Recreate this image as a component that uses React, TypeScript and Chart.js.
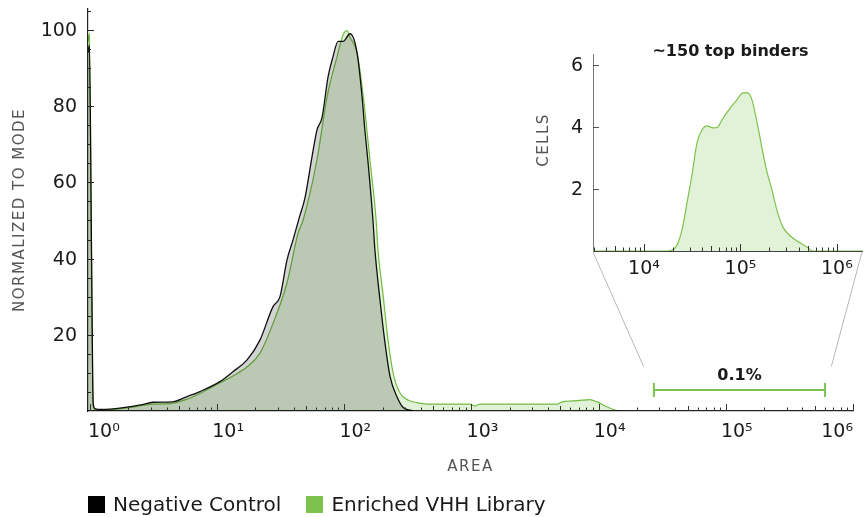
import React, { useEffect, useRef } from 'react';
import { Chart, registerables } from 'chart.js';

Chart.register(...registerables);

// ---------- data ----------
const seriesNames = ['Negative Control', 'Enriched VHH Library'];
const seriesColors = ['#000000', '#7dc24d'];

const negX = [0.965, 0.99, 1.03, 1.06, 1.1, 1.2, 1.44, 1.95, 2.5, 3.13, 4.42, 5.8, 7.33, 10.5, 13.3, 17.2, 21.7, 27.5, 31.2, 35.4, 39.5, 44, 49.1, 55.7, 61, 66.8, 74.5, 81.5, 89.3, 97.7, 111, 126, 138, 145, 154, 168, 174, 191, 209, 229, 260, 289, 347];
const negY = [94, 96, 40, 2, 0.6, 0.4, 0.5, 1.0, 1.6, 2.3, 2.4, 3.8, 5.1, 7.7, 10.3, 13.4, 18.6, 27.4, 30, 39.6, 44.9, 50.5, 56, 66.7, 73.8, 77, 87.7, 93, 97, 97, 99, 94, 82.4, 73.8, 65, 50, 42.3, 29, 17.8, 9, 3.7, 1, 0];

const libX = [0.965, 0.99, 1.03, 1.06, 1.1, 1.2, 1.44, 1.95, 3.13, 4.42, 5.8, 7.33, 10.5, 13.3, 17.2, 21.7, 27.5, 35.4, 43.3, 47.3, 61, 73.1, 87.6, 97.7, 105, 111, 126, 140, 159, 178, 184, 201, 221, 242, 274, 317, 373, 447, 975, 1066, 1167, 4710, 5150, 6760, 8560, 9720, 11640, 13950, 15270];
const libY = [97, 99, 35, 1.5, 0.4, 0.2, 0.3, 0.8, 1.8, 2.0, 3.1, 4.6, 7.4, 9.2, 11.6, 15.2, 23, 33.6, 46.7, 50, 66, 82.4, 93, 98.7, 99.8, 98, 94, 83.5, 66, 50, 42.3, 31, 18.6, 10, 4.7, 2.9, 2.2, 1.8, 1.8, 1.3, 1.8, 1.8, 2.4, 2.7, 3.0, 2.4, 1.1, 0.1, 0];

const insetX = [2960, 17740, 21980, 24770, 27900, 31420, 35400, 39900, 44970, 51880, 58440, 64300, 77800, 92000, 106100, 119600, 131600, 151800, 171000, 188200, 212000, 238800, 275500, 349700, 488700, 563700, 1820000];
const insetY = [0, 0, 0.19, 0.68, 1.55, 2.45, 3.48, 3.9, 4.03, 3.97, 4.0, 4.23, 4.6, 4.87, 5.1, 5.1, 4.87, 4.0, 3.16, 2.55, 1.97, 1.32, 0.77, 0.42, 0.13, 0, 0];

const mainXTicks = [1, 10, 100, 1000, 10000, 100000, 1000000];
const mainXTickLabels = ['10⁰', '10¹', '10²', '10³', '10⁴', '10⁵', '10⁶'];
const mainYTicks = [20, 40, 60, 80, 100];
const insetXTicks = [10000, 100000, 1000000];
const insetXTickLabels = ['10⁴', '10⁵', '10⁶'];
const insetYTicks = [2, 4, 6];

const gateRange = [27200, 603000];
const gateLevel = 5.5;
const gateLabel = '0.1%';
const insetTitle = '~150 top binders';
const mainXTitle = 'AREA';
const mainYTitle = 'NORMALIZED TO MODE';
const insetYTitle = 'CELLS';

// ---------- helpers ----------
const FONT = '"DejaVu Sans", sans-serif';
const INSET_LEFT = 530;
const INSET_TOP = 20;

function text(ctx: CanvasRenderingContext2D, s: string, x: number, y: number, font: string, color: string, align: CanvasTextAlign, baseline: CanvasTextBaseline, spacing = '0px') {
  ctx.save();
  ctx.font = font;
  (ctx as any).letterSpacing = spacing;
  ctx.fillStyle = color;
  ctx.textAlign = align;
  ctx.textBaseline = baseline;
  ctx.fillText(s, x, y);
  ctx.restore();
}

function drawLogTicks(ctx: CanvasRenderingContext2D, scale: any, bottom: number, color: string) {
  ctx.save();
  ctx.strokeStyle = color;
  ctx.lineWidth = 1;
  for (let d = -1; d <= 7; d++) {
    for (let m = 1; m <= 9; m++) {
      const v = m * Math.pow(10, d);
      if (v < scale.min || v > scale.max) continue;
      const px = Math.round(scale.getPixelForValue(v)) + 0.5;
      const len = m === 1 ? 7 : m === 5 ? 5 : 3.5;
      ctx.beginPath();
      ctx.moveTo(px, bottom);
      ctx.lineTo(px, bottom - len);
      ctx.stroke();
    }
  }
  ctx.restore();
}

const hiddenGrid = { display: false, drawTicks: false, tickLength: 0 };

export default function App() {
  const mainRef = useRef<HTMLCanvasElement | null>(null);
  const insetRef = useRef<HTMLCanvasElement | null>(null);

  useEffect(() => {
    if (!mainRef.current || !insetRef.current) return;

    const insetDecor = {
      id: 'insetDecor',
      afterDraw(chart: any) {
        const { ctx, chartArea } = chart;
        const xs = chart.scales.x;
        const ys = chart.scales.y;
        drawLogTicks(ctx, xs, chartArea.bottom, '#333');
        ctx.save();
        ctx.strokeStyle = '#555';
        ctx.lineWidth = 1;
        insetYTicks.forEach((v) => {
          const py = Math.round(ys.getPixelForValue(v)) + 0.5;
          ctx.beginPath();
          ctx.moveTo(chartArea.left, py);
          ctx.lineTo(chartArea.left + 6, py);
          ctx.stroke();
          text(ctx, String(v), chartArea.left - 10, py + 1, `19px ${FONT}`, '#1a1a1a', 'right', 'middle');
        });
        ctx.restore();
        insetXTicks.forEach((v, i) => {
          const px = xs.getPixelForValue(v);
          text(ctx, insetXTickLabels[i], px, chartArea.bottom + 23, `19px ${FONT}`, '#1a1a1a', 'center', 'alphabetic');
        });
        text(ctx, insetTitle, (chartArea.left + chartArea.right) / 2 + 3, chartArea.top - 2, `bold 16px ${FONT}`, '#1a1a1a', 'center', 'middle');
        ctx.save();
        ctx.translate(chartArea.left - 49, chartArea.top + 86);
        ctx.rotate(-Math.PI / 2);
        text(ctx, insetYTitle, 0, 0, `15px ${FONT}`, '#555', 'center', 'middle', '1.5px');
        ctx.restore();
      },
    };

    const inset = new Chart(insetRef.current, {
      type: 'line',
      data: {
        datasets: [
          {
            label: 'top binders',
            data: insetX.map((x, i) => ({ x, y: insetY[i] })),
            borderColor: '#7dc24d',
            borderWidth: 1.2,
            backgroundColor: '#e2f2d8',
            fill: 'origin',
            pointRadius: 0,
            cubicInterpolationMode: 'monotone',
          },
        ],
      },
      options: {
        responsive: false,
        animation: false,
        events: [],
        layout: { padding: { left: 63, right: 2, top: 34, bottom: 34 } },
        plugins: { legend: { display: false }, tooltip: { enabled: false } },
        scales: {
          x: { type: 'logarithmic', min: 2960, max: 1820000, grid: hiddenGrid, ticks: { display: false }, border: { color: '#444', width: 1 } },
          y: { type: 'linear', min: 0, max: 6.35, grid: hiddenGrid, ticks: { display: false }, border: { color: '#777', width: 1 } },
        },
      } as any,
      plugins: [insetDecor],
    });

    const mainDecor = {
      id: 'mainDecor',
      beforeDraw(chart: any) {
        chart.ctx.save();
        chart.ctx.globalCompositeOperation = 'multiply';
      },
      afterDatasetsDraw(chart: any) {
        chart.ctx.restore();
      },
      afterDraw(chart: any) {
        const { ctx, chartArea } = chart;
        const xs = chart.scales.x;
        const ys = chart.scales.y;
        drawLogTicks(ctx, xs, chartArea.bottom, '#333');
        // y ticks
        ctx.save();
        ctx.strokeStyle = '#222';
        ctx.lineWidth = 1;
        for (let v = 5; v <= ys.max; v += 5) {
          const py = Math.round(ys.getPixelForValue(v)) + 0.5;
          const len = v % 20 === 0 ? 6 : 3;
          ctx.beginPath();
          ctx.moveTo(chartArea.left, py);
          ctx.lineTo(chartArea.left + len, py);
          ctx.stroke();
        }
        ctx.restore();
        mainYTicks.forEach((v) => {
          const py = ys.getPixelForValue(v);
          text(ctx, String(v), chartArea.left - 11, py + 1, `19px ${FONT}`, '#1a1a1a', 'right', 'middle');
        });
        ctx.save();
        ctx.font = `19px ${FONT}`;
        mainXTicks.forEach((v, i) => {
          const px = xs.getPixelForValue(v);
          const w = ctx.measureText(mainXTickLabels[i]).width;
          let left = px + 11 - w / 2;
          if (left < chartArea.left) left = chartArea.left;
          if (left + w > chartArea.right) left = chartArea.right - w;
          text(ctx, mainXTickLabels[i], left, chartArea.bottom + 26, `19px ${FONT}`, '#1a1a1a', 'left', 'alphabetic');
        });
        ctx.restore();
        // axis titles
        text(ctx, mainXTitle, (chartArea.left + chartArea.right) / 2, chartArea.bottom + 56, `15px ${FONT}`, '#555', 'center', 'middle', '1.5px');
        ctx.save();
        ctx.translate(20, (chartArea.top + chartArea.bottom) / 2);
        ctx.rotate(-Math.PI / 2);
        text(ctx, mainYTitle, 0, 0, `15px ${FONT}`, '#555', 'center', 'middle', '1.5px');
        ctx.restore();
        // gate
        const gx1 = xs.getPixelForValue(gateRange[0]);
        const gx2 = xs.getPixelForValue(gateRange[1]);
        const gy = Math.round(ys.getPixelForValue(gateLevel));
        ctx.save();
        ctx.strokeStyle = '#7dc24d';
        ctx.lineWidth = 2;
        ctx.beginPath();
        ctx.moveTo(gx1, gy);
        ctx.lineTo(gx2, gy);
        ctx.moveTo(gx1, gy - 7);
        ctx.lineTo(gx1, gy + 7);
        ctx.moveTo(gx2, gy - 7);
        ctx.lineTo(gx2, gy + 7);
        ctx.stroke();
        ctx.restore();
        text(ctx, gateLabel, (gx1 + gx2) / 2, gy - 14, `bold 16px ${FONT}`, '#1a1a1a', 'center', 'middle');
        // connectors to inset
        const ia = inset.chartArea;
        if (ia) {
          const c1 = { x: INSET_LEFT + ia.left, y: INSET_TOP + ia.bottom + 1 };
          const c2 = { x: INSET_LEFT + ia.right, y: INSET_TOP + ia.bottom + 1 };
          const t = 0.83;
          ctx.save();
          ctx.strokeStyle = '#b8b8b8';
          ctx.lineWidth = 1;
          ctx.beginPath();
          ctx.moveTo(c1.x, c1.y);
          ctx.lineTo(c1.x + (gx1 - c1.x) * t, c1.y + (gy - c1.y) * t);
          ctx.moveTo(c2.x, c2.y);
          ctx.lineTo(c2.x + (gx2 - c2.x) * t, c2.y + (gy - c2.y) * t);
          ctx.stroke();
          ctx.restore();
        }
      },
    };

    const main = new Chart(mainRef.current, {
      type: 'line',
      data: {
        datasets: [
          {
            label: seriesNames[0],
            data: negX.map((x, i) => ({ x, y: negY[i] })),
            borderColor: '#111111',
            borderWidth: 1.3,
            backgroundColor: '#d3d3d3',
            fill: 'origin',
            pointRadius: 0,
            cubicInterpolationMode: 'monotone',
          },
          {
            label: seriesNames[1],
            data: libX.map((x, i) => ({ x, y: libY[i] })),
            borderColor: '#78c146',
            borderWidth: 1.2,
            backgroundColor: '#e2f2d8',
            fill: 'origin',
            pointRadius: 0,
            cubicInterpolationMode: 'monotone',
          },
        ],
      },
      options: {
        responsive: false,
        animation: false,
        events: [],
        layout: { padding: { left: 88, right: 11, top: 9, bottom: 106 } },
        plugins: {
          legend: { display: false },
          tooltip: { enabled: false },
          filler: { drawTime: 'beforeDatasetsDraw' },
        },
        scales: {
          x: { type: 'logarithmic', min: 0.965, max: 1000000, grid: hiddenGrid, ticks: { display: false }, border: { color: '#222', width: 1.2 } },
          y: { type: 'linear', min: 0, max: 105.5, grid: hiddenGrid, ticks: { display: false }, border: { color: '#222', width: 1.2 } },
        },
      } as any,
      plugins: [mainDecor],
    });

    return () => {
      main.destroy();
      inset.destroy();
    };
  }, []);

  const legendItem = (i: number) => (
    <div key={i} style={{ display: 'flex', alignItems: 'center', marginLeft: i === 0 ? 0 : 25 }}>
      <span style={{ display: 'inline-block', width: 17, height: 17, background: seriesColors[i] }} />
      <span style={{ marginLeft: 8, font: `20px ${FONT}`, color: '#1a1a1a', lineHeight: '17px' }}>{seriesNames[i]}</span>
    </div>
  );

  return (
    <div style={{ position: 'absolute', left: 0, top: 0, width: 864, height: 517, background: '#fff', overflow: 'hidden' }}>
      <canvas ref={mainRef} width={864} height={517} style={{ position: 'absolute', left: 0, top: 0 }} />
      <canvas ref={insetRef} width={334} height={265} style={{ position: 'absolute', left: INSET_LEFT, top: INSET_TOP }} />
      <div style={{ position: 'absolute', left: 88, top: 496, display: 'flex', alignItems: 'center' }}>
        {seriesNames.map((_, i) => legendItem(i))}
      </div>
    </div>
  );
}
